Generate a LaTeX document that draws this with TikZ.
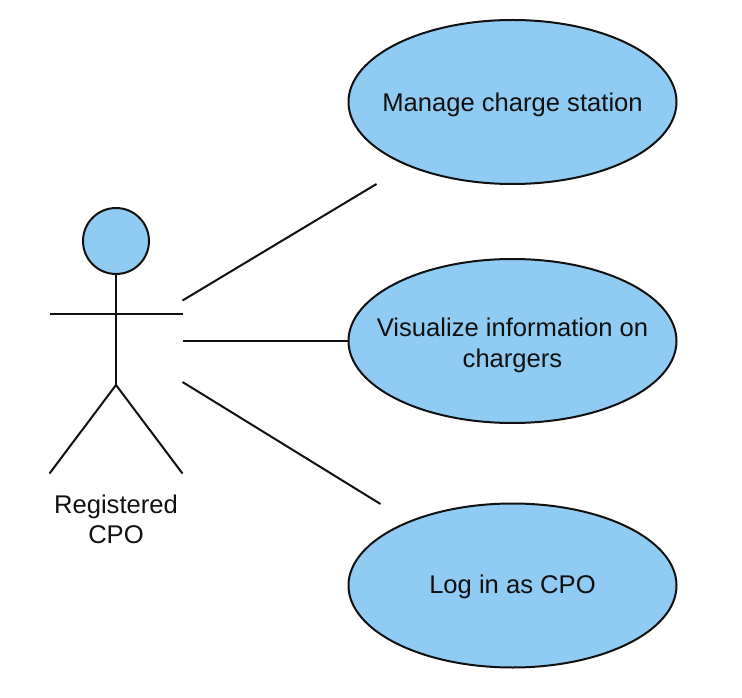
\documentclass[tikz,border=0pt]{standalone}
\usepackage{fontspec}
\setmainfont{Liberation Sans}
\usetikzlibrary{shapes.geometric}
\definecolor{ucblue}{HTML}{8FCBF2}
\definecolor{ink}{HTML}{111111}
\tikzset{
  x=0.75pt,y=-0.75pt,
  usecase/.style={ellipse,draw=ink,fill=ucblue,line width=1.5pt,minimum width=246pt,minimum height=123pt,inner sep=0pt},
  link/.style={draw=ink,line width=1.5pt},
  lbl/.style={align=center,font=\fontsize{19.2pt}{23.2pt}\selectfont,text=ink,inner sep=0pt}
}
\begin{document}
\begin{tikzpicture}
\useasboundingbox (0,0) rectangle (742,698);
\node[usecase] (manage) at (512.5,102) {};
\node[usecase] (visual) at (512.5,341) {};
\node[usecase] (login) at (512.5,585.5) {};
\node[lbl] (manageText) at (512.5,105) {Manage charge station};
\node[lbl] (visualText) at (512.5,345) {Visualize information on\\chargers};
\node[lbl] (loginText) at (512.5,587) {Log in as CPO};
\node[circle,draw=ink,fill=ucblue,line width=1.5pt,minimum size=49.5pt,inner sep=0pt] (head) at (116,241) {};
\coordinate (hip) at (116,385);
\coordinate (armL) at (49.5,314);
\coordinate (armR) at (182.5,314);
\coordinate (footL) at (49.5,473.5);
\coordinate (footR) at (182.5,473.5);
\draw[link] (head.south) -- (hip);
\draw[link] (armL) -- (armR);
\draw[link] (footL) -- (hip) -- (footR);
\node[lbl,font=\fontsize{19.2pt}{22.5pt}\selectfont] (actor) at (116,519) {Registered\\CPO};
\coordinate (a1) at (182.5,300.5);
\coordinate (b1) at (376.5,184);
\coordinate (a2) at (182.5,341);
\coordinate (a3) at (182.5,382);
\coordinate (b3) at (380.5,504);
\draw[link] (a1) -- (b1);
\draw[link] (a2) -- (visual.west);
\draw[link] (a3) -- (b3);
\end{tikzpicture}
\end{document}
